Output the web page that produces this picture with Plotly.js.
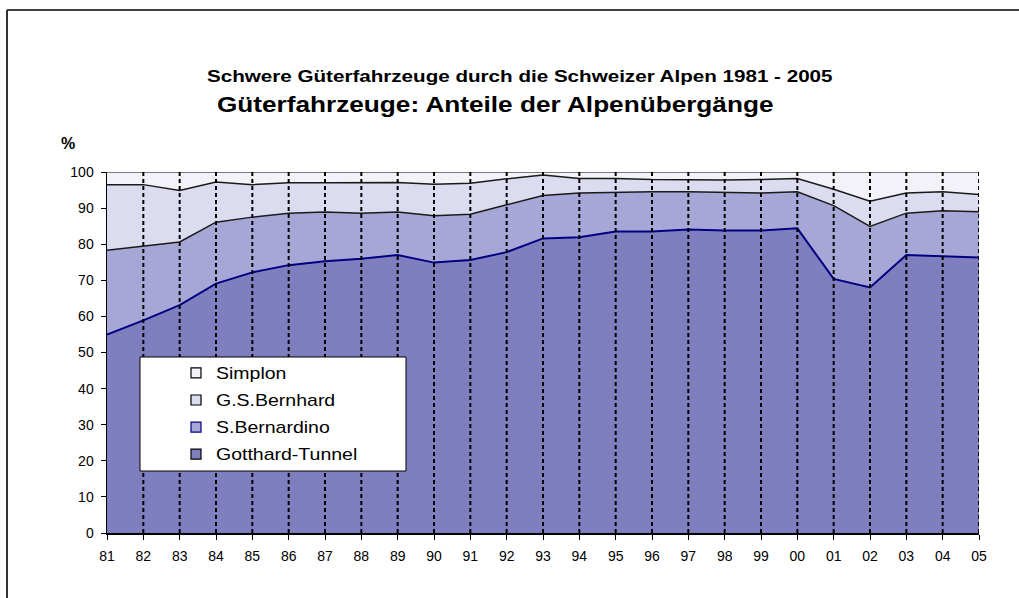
<!DOCTYPE html>
<html>
<head>
<meta charset="utf-8">
<script src="https://cdn.plot.ly/plotly-3.0.1.min.js"></script>
<style>
html,body{margin:0;padding:0;background:#fff;}
#chart{width:1019px;height:598px;}
#chart .legend .scrollbox{clip-path:none !important;}
#chart .legendtext{transform-box:fill-box;transform-origin:left center;transform:scaleX(1.22);}
#chart g.annotation[data-index="0"] text{transform-box:fill-box;transform-origin:left center;transform:scaleX(1.25);}
#chart g.annotation[data-index="1"] text{transform-box:fill-box;transform-origin:left center;transform:scaleX(1.19);}
</style>
</head>
<body>
<div id="chart"></div>
<script>
const years = ['81','82','83','84','85','86','87','88','89','90','91','92','93','94','95','96','97','98','99','00','01','02','03','04','05'];
const gotthard = [55.0,58.9,63.1,69.1,72.2,74.2,75.3,76.0,77.0,74.9,75.6,77.8,81.6,81.9,83.5,83.5,84.1,83.8,83.8,84.4,70.4,68.0,77.0,76.7,76.3];
const sBernardino = [23.3,20.5,17.5,17.0,15.3,14.4,13.6,12.6,11.9,13.0,12.7,13.1,11.9,12.3,10.9,11.0,10.4,10.6,10.4,10.1,20.3,16.9,11.6,12.6,12.7];
const gsBernhard = [18.2,17.1,14.3,11.1,9.0,8.4,8.1,8.4,8.2,8.7,8.6,7.2,5.7,4.0,3.8,3.4,3.3,3.4,3.7,3.7,4.5,7.0,5.6,5.2,4.8];
const simplon = [3.5,3.5,5.1,2.8,3.5,3.0,3.0,3.0,2.9,3.4,3.1,1.9,0.8,1.8,1.8,2.1,2.2,2.2,2.1,1.8,4.8,8.1,5.8,5.5,6.2];

const names = ['Gotthard-Tunnel','S.Bernardino','G.S.Bernhard','Simplon'];
const series = [gotthard, sBernardino, gsBernhard, simplon];
const fills = ['#7f7fc0','#a7a7d7','#dcdcf0','#f2f2f8'];
const lineCols = ['#000080','#1a1a1a','#1a1a1a','#555555'];
const legendBorder = ['#000000','#000080','#000000','#000000'];

const FONT = '"Liberation Sans", Arial, sans-serif';
const traces = [];
series.forEach((s, i) => {
  traces.push({
    x: years, y: s, type: 'scatter', mode: 'lines', stackgroup: 'one',
    fillcolor: fills[i], line: {color: lineCols[i], width: i === 0 ? 2 : 1.5},
    showlegend: false, hoverinfo: 'skip'
  });
});
series.forEach((s, i) => {
  traces.push({
    x: [null], y: [null], type: 'scatter', mode: 'markers', name: names[i],
    legendgroup: 'g' + i, legendrank: 10 - i,
    marker: {symbol: 'square', size: 10, color: fills[i], line: {color: legendBorder[i], width: 1.2}},
    hoverinfo: 'skip'
  });
});

const W = 872, H = 361, L = 107, T = 172;
const px = x => (x - L) / W;
const py = y => (T + H - y) / H;

const shapes = [];
years.forEach((y, i) => {
  if (i === 0) return;
  shapes.push({type: 'line', xref: 'x', yref: 'y', x0: i, x1: i, y0: 0, y1: 100, layer: 'above',
    line: {color: '#000', width: 2, dash: '4px,3px'}});
});
shapes.push({type: 'rect', xref: 'paper', yref: 'paper', x0: px(140), x1: px(406), y0: py(471), y1: py(357),
  fillcolor: '#fff', line: {color: '#000', width: 1}, layer: 'above'});
shapes.push({type: 'line', xref: 'paper', yref: 'paper', x0: px(7), x1: px(1030), y0: py(10), y1: py(10),
  line: {color: '#000', width: 1.5}});
shapes.push({type: 'line', xref: 'paper', yref: 'paper', x0: px(7), x1: px(7), y0: py(10), y1: py(610),
  line: {color: '#333', width: 2}});

const layout = {
  width: 1019, height: 598,
  margin: {l: L, r: 1019 - L - W, t: T, b: 598 - T - H},
  paper_bgcolor: '#fff', plot_bgcolor: '#fff',
  font: {family: FONT, color: '#000', size: 12},
  showlegend: true,
  legend: {x: px(176), y: py(356), xanchor: 'left', yanchor: 'top', bgcolor: 'rgba(0,0,0,0)',
    borderwidth: 0, traceorder: 'grouped', tracegroupgap: 3.3,
    font: {family: FONT, size: 16, color: '#000'}},
  xaxis: {type: 'category', range: [0, years.length - 1], showgrid: false, zeroline: false,
    showline: true, linecolor: '#000', linewidth: 1.5, ticks: 'outside', ticklen: 5, tickcolor: '#000',
    ticklabelstandoff: 5, tickfont: {family: FONT, size: 14}, fixedrange: true},
  yaxis: {range: [0, 100], dtick: 10, showgrid: false, zeroline: false,
    showline: true, linecolor: '#000', linewidth: 1.5, ticks: 'outside', ticklen: 5, tickcolor: '#000',
    ticklabelstandoff: 4, tickfont: {family: FONT, size: 14}, fixedrange: true},
  shapes: shapes,
  annotations: [
    {xref: 'paper', yref: 'paper', x: px(205), y: py(76), xanchor: 'left', yanchor: 'middle', align: 'left', showarrow: false,
      text: '<b>Schwere Güterfahrzeuge durch die Schweizer Alpen 1981 - 2005</b>', font: {family: FONT, size: 16.5}},
    {xref: 'paper', yref: 'paper', x: px(215), y: py(104), xanchor: 'left', yanchor: 'middle', align: 'left', showarrow: false,
      text: '<b>Güterfahrzeuge: Anteile der Alpenübergänge</b>', font: {family: FONT, size: 22}},
    {xref: 'paper', yref: 'paper', x: px(68), y: py(143), xanchor: 'center', yanchor: 'middle', showarrow: false,
      text: '<b>%</b>', font: {family: FONT, size: 16}}
  ]
};
Plotly.newPlot('chart', traces, layout, {displayModeBar: false, staticPlot: true});
</script>
</body>
</html>
